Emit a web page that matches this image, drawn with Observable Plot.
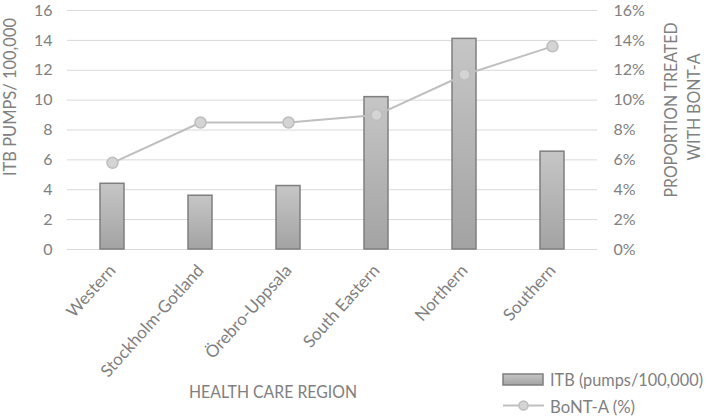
<!DOCTYPE html>
<html>
<head>
<meta charset="utf-8">
<script src="https://cdn.jsdelivr.net/npm/d3@7"></script>
<script src="https://cdn.jsdelivr.net/npm/@observablehq/plot@0.6"></script>
<style>
  html, body { margin: 0; padding: 0; background: #fff; }
  #wrap { position: relative; width: 709px; height: 417px; font-family: Lato, "Open Sans", sans-serif; color: #808080; }
</style>
</head>
<body>
<div id="wrap"></div>
<script>
const regions = ["Western", "Stockholm-Gotland", "Örebro-Uppsala", "South Eastern", "Northern", "Southern"];
const itbPumps = [4.4, 3.6, 4.25, 10.2, 14.1, 6.55];
const bontaPct = [5.8, 8.5, 8.5, 9.0, 11.7, 13.6];
const yTicks = [0, 2, 4, 6, 8, 10, 12, 14, 16];
const seriesNames = ["ITB (pumps/100,000)", "BoNT-A (%)"];

const data = regions.map((r, i) => ({region: r, itb: itbPumps[i], bont: bontaPct[i]}));

const textColor = "#808080";
const FONT = "Lato, 'Open Sans', sans-serif";
const chart = Plot.plot({
  width: 709,
  height: 417,
  marginLeft: 67,
  marginRight: 112,
  marginTop: 10,
  marginBottom: 168,
  style: {fontFamily: FONT, fontSize: "15px", color: textColor, background: "#fff", overflow: "visible"},
  x: {domain: regions, paddingInner: 0.727, paddingOuter: 0.3635, label: null},
  y: {domain: [0, 16], label: null},
  marks: [
    () => {
      const ns = "http://www.w3.org/2000/svg";
      const defs = document.createElementNS(ns, "defs");
      defs.innerHTML = `<linearGradient id="barGrad" x1="0" y1="0" x2="0" y2="1">
        <stop offset="0" stop-color="#c6c6c6"/><stop offset="1" stop-color="#a3a3a3"/></linearGradient>`;
      return defs;
    },
    Plot.gridY(yTicks, {stroke: "#d9d9d9", strokeOpacity: 1, strokeWidth: 1}),
    Plot.barY(data, {x: "region", y: "itb", fill: "url(#barGrad)", stroke: "#7f7f7f", strokeWidth: 1.5}),
    Plot.lineY(data, {x: "region", y: "bont", stroke: "#bfbfbf", strokeWidth: 2}),
    Plot.dot(data, {x: "region", y: "bont", r: 5.5, fill: "#d4d4d4", stroke: "#bdbdbd", strokeWidth: 1.5}),
    Plot.axisY(yTicks, {anchor: "left", tickSize: 0, tickPadding: 15, fill: textColor, fontSize: 16, label: null}),
    Plot.axisY(yTicks, {anchor: "right", tickSize: 0, tickPadding: 16, tickFormat: d => d + "%", fill: textColor, fontSize: 16, label: null}),
    Plot.axisX({tickSize: 0, tickRotate: -48, tickPadding: 18, fill: textColor, fontSize: 17, label: null})
  ]
});

const wrap = document.getElementById("wrap");
wrap.appendChild(chart);

const ns = "http://www.w3.org/2000/svg";
function addText(str, x, y, rot, size, len, anchor = "middle") {
  const t = document.createElementNS(ns, "text");
  t.textContent = str;
  t.setAttribute("x", 0); t.setAttribute("y", 0);
  t.setAttribute("transform", `translate(${x},${y}) rotate(${rot})`);
  t.setAttribute("text-anchor", anchor);
  t.setAttribute("fill", textColor);
  t.setAttribute("font-size", size);
  t.setAttribute("font-family", FONT);
  if (len) { t.setAttribute("textLength", len); t.setAttribute("lengthAdjust", "spacingAndGlyphs"); }
  chart.appendChild(t);
  return t;
}
addText("ITB PUMPS/ 100,000", 16, 97, -90, 17, 158);
addText("PROPORTION TREATED", 677, 110, -90, 17, 175);
addText("WITH BONT-A", 700, 107, -90, 17, 107);
addText("HEALTH CARE REGION", 273, 398, 0, 18, 168);

// Legend (drawn into the same SVG)
const g = document.createElementNS(ns, "g");
g.innerHTML = `<rect x="503" y="374" width="40" height="11" fill="url(#barGrad)" stroke="#7f7f7f" stroke-width="1.5"/>
<line x1="503" y1="405.5" x2="544" y2="405.5" stroke="#bfbfbf" stroke-width="2"/>
<circle cx="523.5" cy="405.5" r="4.5" fill="#d4d4d4" stroke="#bdbdbd" stroke-width="1.5"/>`;
chart.appendChild(g);
addText(seriesNames[0], 550, 385.5, 0, 17, 153, "start");
addText(seriesNames[1], 550, 413, 0, 17, 85, "start");
</script>
</body>
</html>
